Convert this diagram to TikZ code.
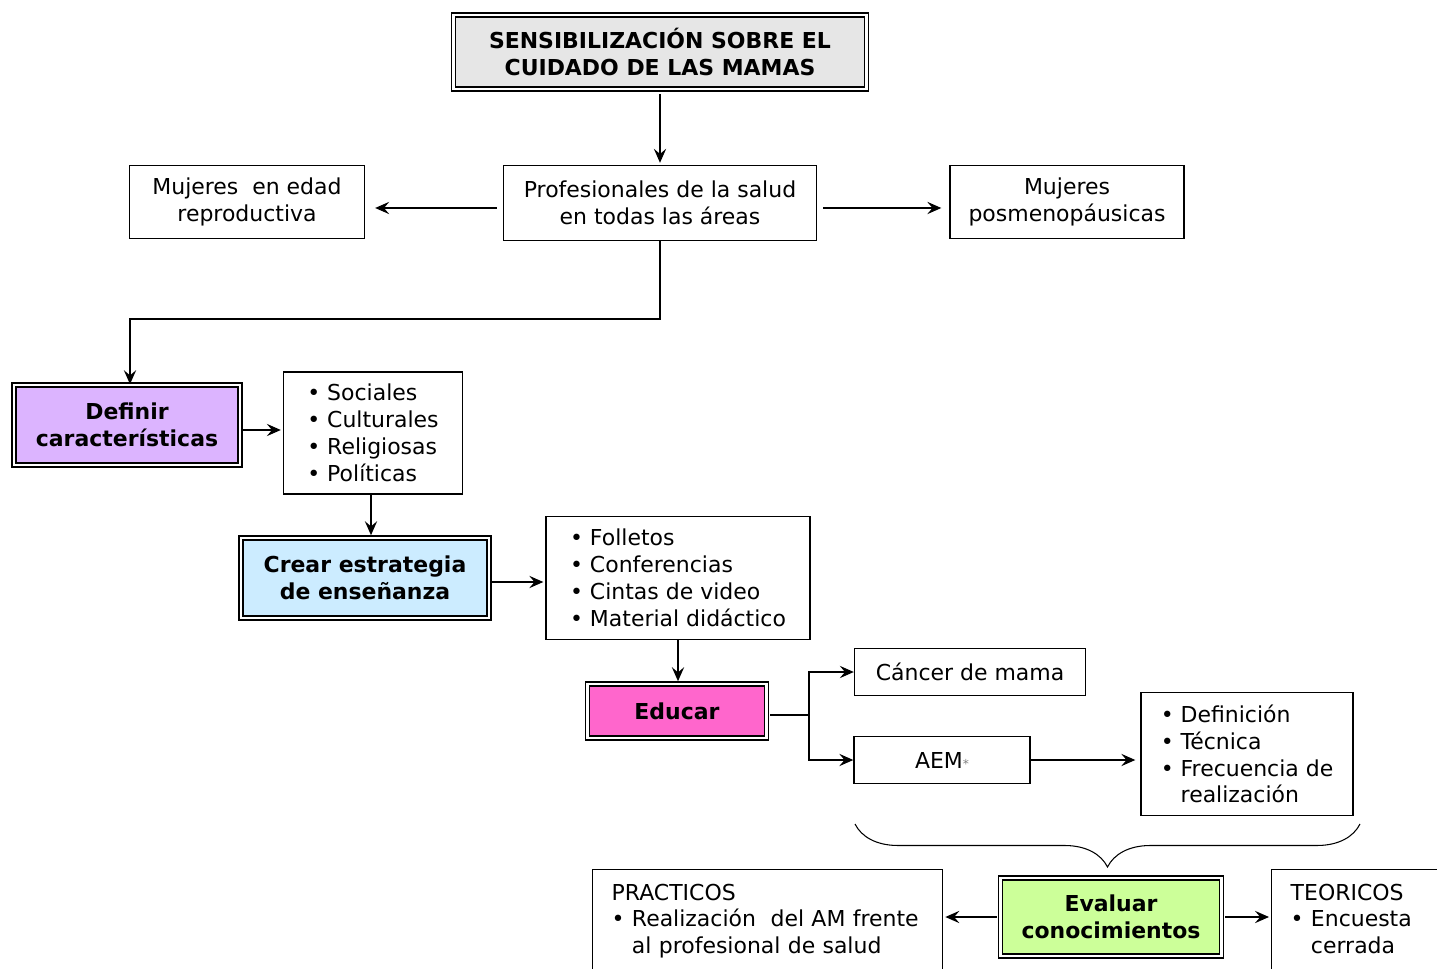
\documentclass[tikz,border=0pt]{standalone}
\usepackage{fontspec}
\setmainfont{DejaVu Sans}
\usetikzlibrary{arrows.meta}
\usetikzlibrary{decorations.pathreplacing,calc}

\definecolor{grisTitulo}{RGB}{230,230,230}
\definecolor{lilaDefinir}{RGB}{220,180,255}
\definecolor{celesteCrear}{RGB}{204,236,255}
\definecolor{rosaEducar}{RGB}{255,102,204}
\definecolor{verdeEvaluar}{RGB}{204,255,153}

\begin{document}
\begin{tikzpicture}[
	x = 0.02cm, y = -0.02cm,
	every node/.style = {font = \fontsize{12.5}{15.3}\selectfont, inner sep = 0pt},
	caja/.style = {draw, line width = 0.8pt, align = center},
	lista/.style = {caja, align = left},
	doble/.style = {draw, line width = 0.9pt, double, double distance = 1.5pt, align = center,
		font = \fontsize{12.5}{15.3}\selectfont\bfseries},
	abierta/.style = {draw, line width = 0.8pt, anchor = north west, align = left,
		inner xsep = 0.38cm, inner ysep = 0.28cm, text depth = 3cm},
	flecha/.style = {line width = 0.8pt, -{Stealth[length = 8pt, width = 7pt, inset = 3pt]}}
	]
	\useasboundingbox (0,0) rectangle (1437,969);
	\clip (0,0) rectangle (1437,969);

	\node[doble, fill = grisTitulo, minimum width = 8.26cm, minimum height = 1.48cm] (titulo) at (660,52)
		{SENSIBILIZACIÓN SOBRE EL\\CUIDADO DE LAS MAMAS};
	\node[caja, minimum width = 6.26cm, minimum height = 1.5cm] (prof) at (660,203)
		{Profesionales de la salud\\en todas las áreas};
	\node[caja, minimum width = 4.7cm, minimum height = 1.46cm] (mujRep) at (247,202)
		{Mujeres~~en edad\\reproductiva};
	\node[caja, minimum width = 4.68cm, minimum height = 1.46cm] (mujPos) at (1067,202)
		{Mujeres\\posmenopáusicas};

	\node[doble, fill = lilaDefinir, minimum width = 4.52cm, minimum height = 1.6cm] (definir) at (127,425)
		{Definir\\características};
	\node[lista, minimum width = 3.58cm, minimum height = 2.44cm] (rasgos) at (373,433)
		{• Sociales\\• Culturales\\• Religiosas\\• Políticas};
	\node[doble, fill = celesteCrear, minimum width = 4.96cm, minimum height = 1.6cm] (crear) at (365,578)
		{Crear estrategia\\de enseñanza};
	\node[lista, minimum width = 5.28cm, minimum height = 2.46cm] (medios) at (678,578)
		{• Folletos\\• Conferencias\\• Cintas de video\\• Material didáctico};
	\node[doble, fill = rosaEducar, minimum width = 3.58cm, minimum height = 1.08cm] (educar) at (677,711)
		{Educar};
	\node[caja, minimum width = 4.62cm, minimum height = 0.94cm] (cancer) at (970,672)
		{Cáncer de mama};
	\node[caja, minimum width = 3.52cm, minimum height = 0.94cm] (aem) at (942,760)
		{AEM{\color{gray}\scriptsize *}};
	\node[lista, minimum width = 4.24cm, minimum height = 2.46cm] (temas) at (1247,754)
		{• Definición\\• Técnica\\• Frecuencia de\\\phantom{• }realización};

	\node[doble, fill = verdeEvaluar, minimum width = 4.42cm, minimum height = 1.56cm] (evaluar) at (1111,917)
		{Evaluar\\conocimientos};
	\node[abierta, text width = 6.24cm] (practicos) at (592,869)
		{PRACTICOS\\• Realización~ del AM frente\\\phantom{• }al profesional de salud};
	\node[abierta, text width = 3.6cm] (teoricos) at (1271,869)
		{TEORICOS\\• Encuesta\\\phantom{• }cerrada};

	\coordinate (codo) at (130,319);
	\coordinate (rama) at (809,715);
	\coordinate (llaveDer) at (1360,824);
	\coordinate (llaveIzq) at (855,824);

	\draw[flecha, shorten <= 0.08cm, shorten >= 0.04cm] (titulo.south) -- (prof.north);
	\draw[flecha, shorten <= 0.12cm, shorten >= 0.2cm] ([yshift = -0.1cm]prof.west) -- ([yshift = -0.1cm]prof.west -| mujRep.east);
	\draw[flecha, shorten <= 0.12cm, shorten >= 0.16cm] ([yshift = -0.1cm]prof.east) -- ([yshift = -0.1cm]prof.east -| mujPos.west);
	\draw[flecha] (prof.south) |- (codo) -- (codo |- definir.north);
	\draw[flecha, shorten <= 0.04cm, shorten >= 0.04cm] ([yshift = -0.1cm]definir.east) -- ([yshift = -0.1cm]definir.east -| rasgos.west);
	\draw[flecha, shorten >= 0.04cm] ([xshift = -0.04cm]rasgos.south) -- ([xshift = -0.04cm]rasgos.south |- crear.north);
	\draw[flecha, shorten <= 0.04cm, shorten >= 0.04cm] ([yshift = -0.08cm]crear.east) -- ([yshift = -0.08cm]crear.east -| medios.west);
	\draw[flecha, shorten >= 0.04cm] (medios.south) -- (medios.south |- educar.north);
	\draw[line width = 0.8pt, shorten <= 0.06cm] (educar.east |- rama) -- (rama);
	\draw[flecha] (rama) |- (cancer.west);
	\draw[flecha] (rama) |- (aem.west);
	\draw[flecha, shorten >= 0.1cm] (aem.east) -- (aem.east -| temas.west);
	\draw[line width = 0.6pt, decorate, decoration = {brace, amplitude = 0.86cm}] (llaveDer) -- (llaveIzq);
	\draw[flecha, shorten <= 0.06cm, shorten >= 0.04cm] (evaluar.west) -- (evaluar.west -| practicos.east);
	\draw[flecha, shorten <= 0.06cm, shorten >= 0.04cm] (evaluar.east) -- (evaluar.east -| teoricos.west);
\end{tikzpicture}
\end{document}
